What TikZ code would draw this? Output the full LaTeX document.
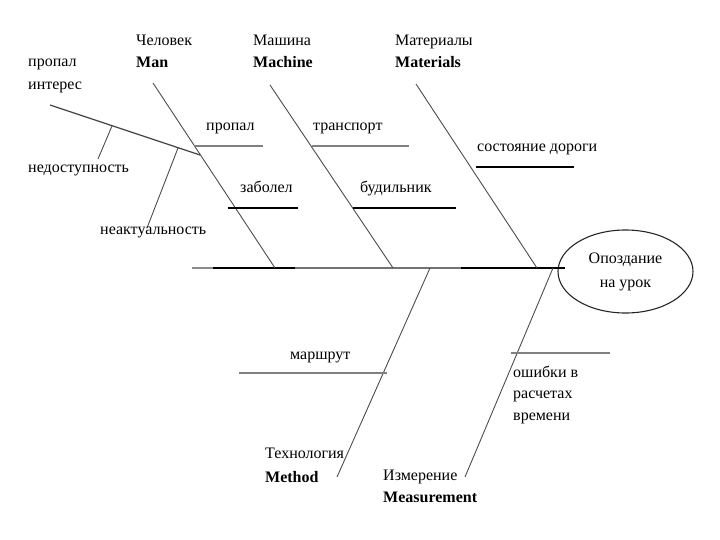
\documentclass[tikz,border=0pt]{standalone}
\usepackage{fontspec}
\setmainfont{Liberation Serif}
\usetikzlibrary{shapes.geometric}
\tikzset{
  lbl/.style={font=\fontsize{16}{19}\selectfont, inner sep=0pt, anchor=base west},
  cat/.style={lbl, font=\fontsize{16}{19}\selectfont\bfseries},
  bone/.style={draw=black!70, line width=0.9pt},     % main bone
  sb/.style={draw=black, line width=1.4pt},          % black sub-bone
  sg/.style={draw=black!50, line width=1.8pt},       % grey sub-bone
  spn/.style={line width=2pt},                       % spine piece
}
\begin{document}
\begin{tikzpicture}[x=1pt, y=-1pt]
  \useasboundingbox (0,0) rectangle (720,540);
  % head
  \node[ellipse, draw=black!85, line width=1.1pt, minimum width=135pt, minimum height=83pt,
        align=center, font=\fontsize{16}{24}\selectfont] (eff) at (625.5,271.5) {Опоздание\\на урок};
  % spine
  \coordinate (sp0) at (192,268);
  \coordinate (sp1) at (213,268);
  \coordinate (sp2) at (295,268);
  \coordinate (sp3) at (461,268);
  \coordinate (sp4) at (565,268);
  \draw[spn, black!45] (sp0) -- (sp1);
  \draw[spn, black]    (sp1) -- (sp2);
  \draw[spn, black!55] (sp2) -- (sp3);
  \draw[spn, black]    (sp3) -- (sp4);
  % main bones
  \coordinate (manT) at (153,83);   \coordinate (manB) at (275,268);
  \coordinate (macT) at (270,85);   \coordinate (macB) at (393,268);
  \coordinate (matT) at (416,84);   \coordinate (matB) at (537,268);
  \coordinate (metT) at (337,477);  \coordinate (metB) at (430,268);
  \coordinate (meaT) at (465,477);  \coordinate (meaB) at (553,268);
  \foreach \u/\v in {manT/manB,macT/macB,matT/matB,metT/metB,meaT/meaB} \draw[bone] (\u)--(\v);
  % categories
  \node[lbl] (manru) at (136,46) {Человек};
  \node[cat] (man)   at (136,68) {Man};
  \node[lbl] (macru) at (253,46) {Машина};
  \node[cat] (mac)   at (253,68) {Machine};
  \node[lbl] (matru) at (395,46) {Материалы};
  \node[cat] (mat)   at (395,68) {Materials};
  \node[lbl] (metru) at (265,458) {Технология};
  \node[cat] (met)   at (265,482) {Method};
  \node[lbl] (mearu) at (383,480) {Измерение};
  \node[cat] (mea)   at (383,502) {Measurement};
  % causes
  \coordinate (c1a) at (194,146); \coordinate (c1b) at (263,146);
  \draw[sg] (c1a) -- (c1b);
  \node[lbl] (c1) at (206,131) {пропал};
  \coordinate (c2a) at (228,208); \coordinate (c2b) at (298,208);
  \draw[sb] (c2a) -- (c2b);
  \node[lbl] (c2) at (240,193) {заболел};
  \coordinate (c3a) at (312,146); \coordinate (c3b) at (409,146);
  \draw[sg] (c3a) -- (c3b);
  \node[lbl] (c3) at (313,131) {транспорт};
  \coordinate (c4a) at (353,208); \coordinate (c4b) at (456,208);
  \draw[sb] (c4a) -- (c4b);
  \node[lbl] (c4) at (360,193) {будильник};
  \coordinate (c5a) at (476,167); \coordinate (c5b) at (574,167);
  \draw[sb] (c5a) -- (c5b);
  \node[lbl] (c5) at (477,152) {состояние дороги};
  \coordinate (c6a) at (239,373); \coordinate (c6b) at (387,373);
  \draw[sg] (c6a) -- (c6b);
  \node[lbl] (c6) at (290,359) {маршрут};
  \coordinate (c7a) at (511,353); \coordinate (c7b) at (610,353);
  \draw[sg, line width=2.4pt] (c7a) -- (c7b);
  \node[lbl] (c7a1) at (513,377) {ошибки в};
  \node[lbl] (c7a2) at (513,398) {расчетах};
  \node[lbl] (c7a3) at (513,420) {времени};
  % lost interest branch
  \coordinate (inA) at (50,105); \coordinate (inB) at (200,155);
  \draw[draw=black!75, line width=1.2pt] (inA) -- (inB);
  \node[lbl] (in1) at (28,67) {пропал};
  \node[lbl] (in2) at (28,90) {интерес};
  \coordinate (d1a) at (112,126); \coordinate (d1b) at (98,159);
  \coordinate (d2a) at (178,148); \coordinate (d2b) at (147,228);
  \foreach \u/\v in {d1a/d1b,d2a/d2b} \draw[bone] (\u)--(\v);
  \node[lbl] (d1) at (28,173) {недоступность};
  \node[lbl] (d2) at (100,235) {неактуальность};
\end{tikzpicture}
\end{document}
